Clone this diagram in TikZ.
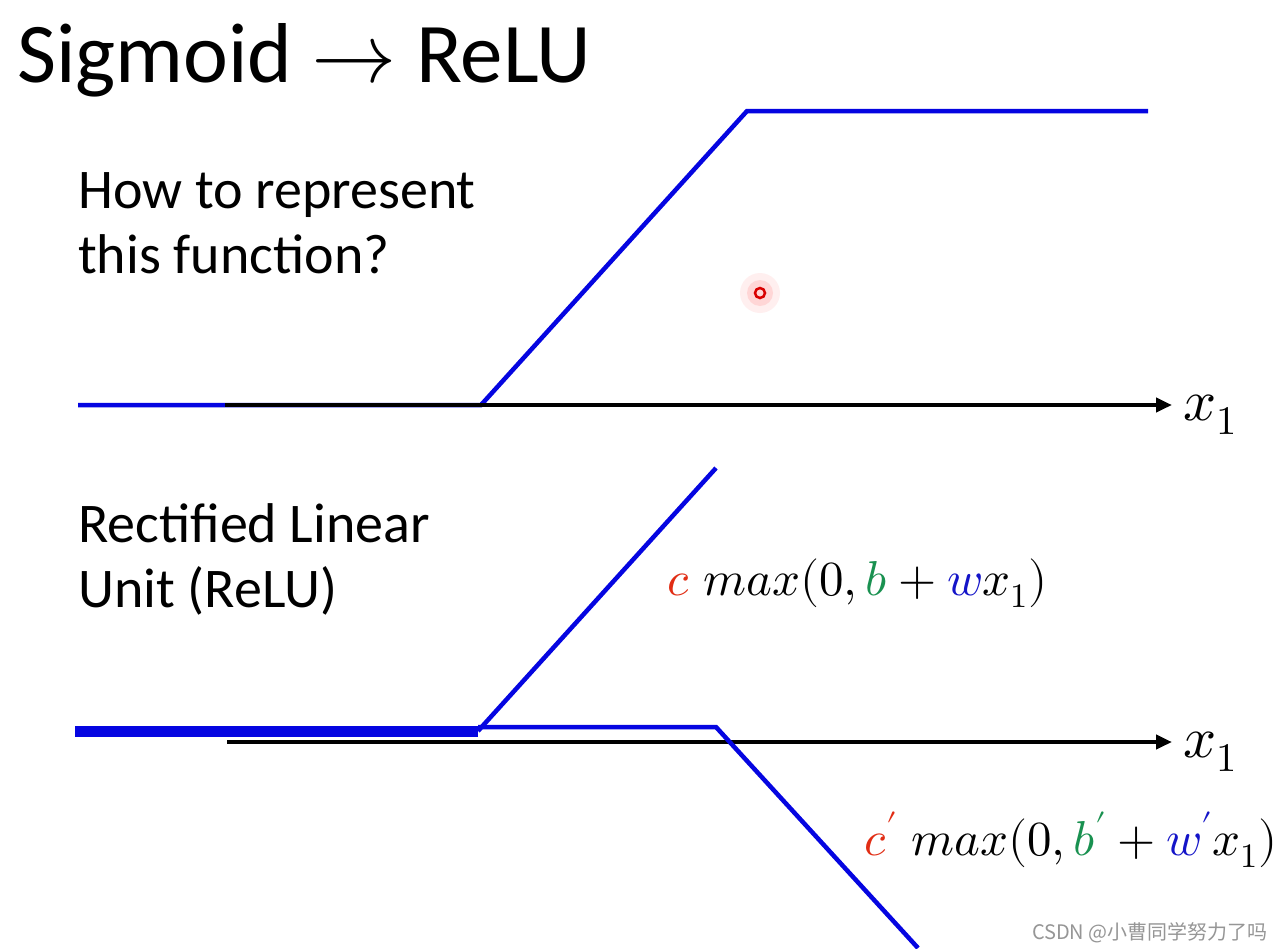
\documentclass[tikz,border=0pt]{standalone}
\usepackage{fontspec}
\usepackage{unicode-math}
\setmainfont{Carlito}
\setmathfont{Latin Modern Math}
\newfontfamily\cjkfont{Noto Sans CJK SC}
\usetikzlibrary{arrows.meta}
\definecolor{lineblue}{RGB}{5,5,225}
\definecolor{cred}{RGB}{225,45,20}
\definecolor{cgreen}{RGB}{25,145,80}
\definecolor{cblue}{RGB}{20,20,200}
\definecolor{wmgray}{RGB}{150,150,150}
\tikzset{
  curve/.style={draw=lineblue, line width=4.5pt, line join=miter},
  axis/.style={draw=black, line width=4pt, -{Triangle[length=16pt,width=14pt]}},
  bodytext/.style={anchor=base west, inner sep=0pt, font=\fontsize{56}{66}\selectfont},
  formula/.style={anchor=base west, inner sep=0pt, font=\fontsize{49}{60}\selectfont},
  axlabel/.style={anchor=base west, inner sep=0pt, font=\fontsize{58}{70}\selectfont},
}
\begin{document}
\begin{tikzpicture}[x=1pt,y=-1pt]
\useasboundingbox (0,0) rectangle (1284,948);
\fill[white] (0,0) rectangle (1284,948);

% title and texts
\node[anchor=base west, inner sep=0pt, font=\fontsize{85}{100}\selectfont] (title) at (17,82) {Sigmoid $\rightarrow$ ReLU};
\node[bodytext] (q1) at (78,208) {How to represent};
\node[bodytext] (q2) at (78,273) {this function?};
\node[bodytext] (r1) at (78,542) {Rectified Linear};
\node[bodytext] (r2) at (78,607) {Unit (ReLU)};

% top: hard sigmoid
\coordinate (t0) at (78,405);
\coordinate (t1) at (481,405);
\coordinate (t2) at (747,111);
\coordinate (t3) at (1148,111);
\coordinate (ax1s) at (225,405);
\coordinate (ax1e) at (1172,405);
\draw[curve] (t0) -- (t1) -- (t2) -- (t3);
\draw[axis] (ax1s) -- (ax1e);
\node[axlabel] (xl1) at (1183,420) {$x_1$};

% red pointer dot
\fill[red!15, opacity=0.4] (760,293) circle (20pt);
\fill[red!25, opacity=0.5] (760,293) circle (13pt);
\draw[red!85!black, line width=2.5pt] (760,293) circle (5pt);

% bottom: two ReLUs
\coordinate (b0) at (75,731);
\coordinate (b1) at (478,731);
\coordinate (b2) at (716,468);
\coordinate (c0) at (478,727);
\coordinate (c1) at (716,727);
\coordinate (c2) at (918,948);
\coordinate (ax2s) at (227,742);
\coordinate (ax2e) at (1172,742);
\draw[axis] (ax2s) -- (ax2e);
\fill[lineblue] (75,725.5) rectangle (478,736.5);
\draw[curve] (b1) -- (b2);
\draw[curve] (c0) -- (c1) -- (c2);
\node[axlabel] (xl2) at (1183,757) {$x_1$};

% formulas
\node[formula] (f1) at (667,595) {$\textcolor{cred}{c}\;max(0,\textcolor{cgreen}{b}+\textcolor{cblue}{w}x_1)$};
\node[formula] (f2) at (864,855) {$\textcolor{cred}{c'}\;max(0,\textcolor{cgreen}{b'}+\textcolor{cblue}{w'}x_1)$};

% watermark
\node[anchor=base east, inner sep=0pt, text=wmgray, font=\fontsize{20}{24}\selectfont\cjkfont] (wm) at (1268,939) {CSDN @小曹同学努力了吗};
\end{tikzpicture}
\end{document}
